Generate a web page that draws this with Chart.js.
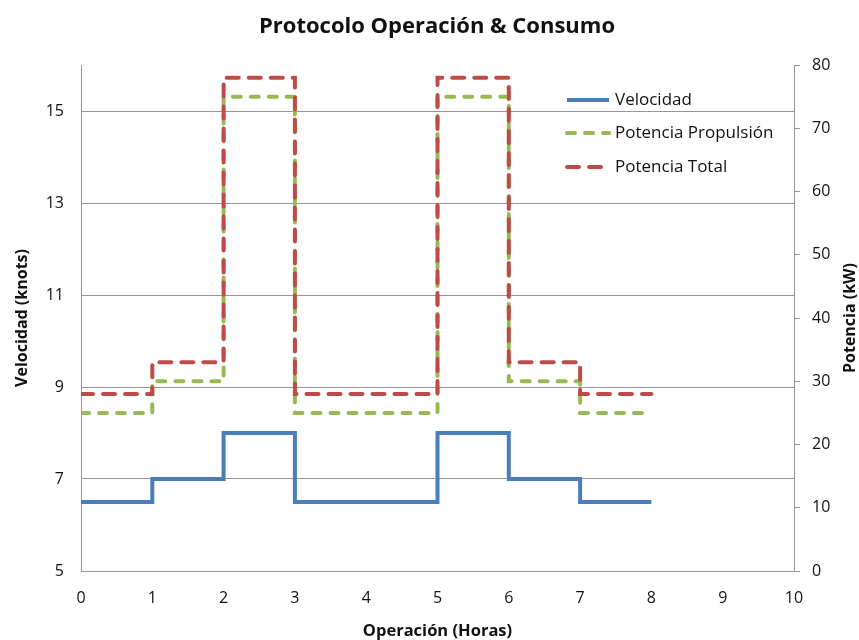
<!DOCTYPE html>
<html>
<head>
<meta charset="utf-8">
<script src="https://cdn.jsdelivr.net/npm/chart.js@4/dist/chart.umd.min.js"></script>
<style>
  html, body { margin: 0; padding: 0; background: #ffffff; }
  #wrap { width: 859px; height: 640px; }
</style>
</head>
<body>
<div id="wrap"><canvas id="chart" width="859" height="640"></canvas></div>
<script>
// Operating hours (start of each interval, last point closes the profile)
const horas = [0, 1, 2, 3, 4, 5, 6, 7, 8];
// Speed for each hourly interval, knots
const velocidad = [6.5, 7, 8, 6.5, 6.5, 8, 7, 6.5, 6.5];
// Propulsion power for each hourly interval, kW
const potenciaPropulsion = [25, 30, 75, 25, 25, 75, 30, 25, 25];
// Total power for each hourly interval, kW
const potenciaTotal = [28, 33, 78, 28, 28, 78, 33, 28, 28];
// Left axis tick values
const ticksVelocidad = [5, 7, 9, 11, 13, 15];

const FONT = "'Open Sans', 'Liberation Sans', sans-serif";
const GRID = '#969696';
const INK = '#111111';

const toPoints = vals => horas.map((h, i) => ({ x: h, y: vals[i] }));

// Legend drawn inside the plot area, top right, with line samples
const insideLegend = {
  id: 'insideLegend',
  afterDatasetsDraw(chart) {
    const ctx = chart.ctx;
    const x0 = 567, x1 = 609, tx = 615;
    const rows = [100, 133, 167];
    ctx.save();
    chart.data.datasets.forEach((ds, i) => {
      const y = rows[i];
      ctx.beginPath();
      ctx.strokeStyle = ds.borderColor;
      ctx.lineWidth = ds.borderWidth;
      ctx.lineCap = ds.borderCapStyle || 'butt';
      ctx.setLineDash(ds.borderDash || []);
      ctx.moveTo(x0, y);
      ctx.lineTo(x1, y);
      ctx.stroke();
      ctx.setLineDash([]);
      ctx.fillStyle = INK;
      ctx.font = '17px ' + FONT;
      ctx.textBaseline = 'middle';
      ctx.textAlign = 'left';
      ctx.fillText(ds.label, tx, y);
    });
    ctx.restore();
  }
};

// Chart title and the right axis title (reading bottom to top like the left one)
const titles = {
  id: 'titles',
  afterDraw(chart) {
    const ctx = chart.ctx;
    const area = chart.chartArea;
    ctx.save();
    ctx.fillStyle = INK;
    ctx.textAlign = 'center';
    ctx.textBaseline = 'middle';
    ctx.font = 'bold 22px ' + FONT;
    ctx.fillText('Protocolo Operación & Consumo', 437, 27);
    ctx.translate(850, (area.top + area.bottom) / 2);
    ctx.rotate(-Math.PI / 2);
    ctx.font = 'bold 16px ' + FONT;
    ctx.fillText('Potencia (kW)', 0, 0);
    ctx.restore();
  }
};

new Chart(document.getElementById('chart'), {
  type: 'line',
  data: {
    datasets: [
      {
        label: 'Velocidad',
        data: toPoints(velocidad),
        yAxisID: 'yV',
        borderColor: '#4a7ebb',
        borderWidth: 4,
        stepped: 'before',
        pointRadius: 0,
        borderCapStyle: 'butt',
        order: 3
      },
      {
        label: 'Potencia Propulsión',
        data: toPoints(potenciaPropulsion),
        yAxisID: 'yP',
        borderColor: '#98b954',
        borderWidth: 4,
        borderDash: [8, 10],
        borderCapStyle: 'round',
        stepped: 'before',
        pointRadius: 0,
        order: 2
      },
      {
        label: 'Potencia Total',
        data: toPoints(potenciaTotal),
        yAxisID: 'yP',
        borderColor: '#be4b48',
        borderWidth: 4,
        borderDash: [12, 10],
        borderCapStyle: 'round',
        stepped: 'before',
        pointRadius: 0,
        order: 1
      }
    ]
  },
  options: {
    responsive: false,
    animation: false,
    layout: { padding: { top: 65, left: 0, right: 0, bottom: 0 } },
    plugins: {
      legend: { display: false },
      tooltip: { enabled: false },
      title: { display: false }
    },
    scales: {
      x: {
        type: 'linear',
        min: 0,
        max: 10,
        ticks: { stepSize: 1, color: INK, font: { family: FONT, size: 16 }, padding: 18, maxRotation: 0 },
        grid: { display: false, drawTicks: false },
        border: { display: true, color: GRID, width: 1 },
        title: {
          display: true,
          text: 'Operación (Horas)',
          color: INK,
          font: { family: FONT, size: 16.5, weight: 'bold', lineHeight: 1 },
          padding: { top: 0, bottom: 0 }
        },
        afterFit(scale) { scale.height = 69; }
      },
      yV: {
        type: 'linear',
        position: 'left',
        min: 5,
        max: 16,
        afterBuildTicks(scale) { scale.ticks = ticksVelocidad.map(v => ({ value: v })); },
        ticks: { color: INK, font: { family: FONT, size: 16 }, padding: 17 },
        grid: { color: GRID, drawTicks: false, lineWidth: 1 },
        border: { display: true, color: GRID, width: 1 },
        title: {
          display: true,
          text: 'Velocidad (knots)',
          color: INK,
          font: { family: FONT, size: 16, weight: 'bold', lineHeight: 1 },
          padding: { top: 14 }
        },
        afterFit(scale) { scale.width = 81; }
      },
      yP: {
        type: 'linear',
        position: 'right',
        min: 0,
        max: 80,
        ticks: { stepSize: 10, color: INK, font: { family: FONT, size: 16 }, padding: 12 },
        grid: { drawOnChartArea: false, color: GRID, drawTicks: true, tickLength: 6 },
        border: { display: true, color: GRID, width: 1 },
        title: { display: false },
        afterFit(scale) { scale.width = 65; }
      }
    }
  },
  plugins: [insideLegend, titles]
});
</script>
</body>
</html>
